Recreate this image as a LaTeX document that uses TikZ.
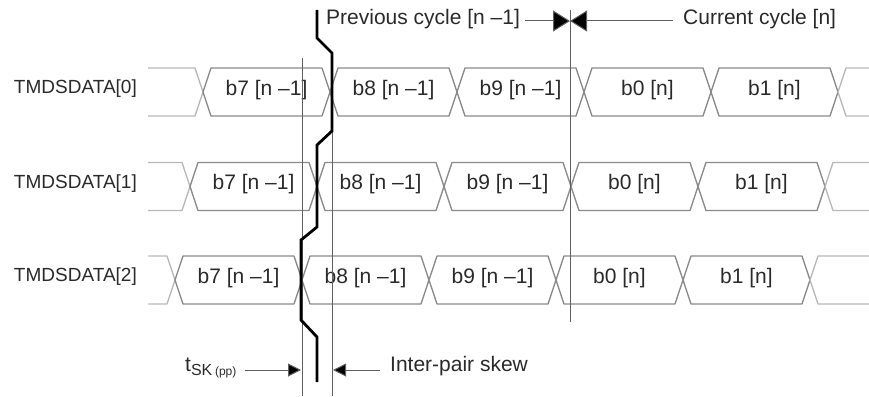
\documentclass[tikz,border=0pt]{standalone}
\usepackage{fontspec}
\setmainfont{Liberation Sans}
\usetikzlibrary{arrows.meta}
\definecolor{wire}{HTML}{8A8A8A}
\definecolor{idle}{HTML}{B8B8B8}
\definecolor{ink}{HTML}{2A2A2A}
\definecolor{rule}{HTML}{606060}

\begin{document}
\begin{tikzpicture}[x=1pt,y=-1pt,
    lab/.style={text=ink,font=\fontsize{21}{24}\selectfont,inner sep=0pt},
    bus/.style={draw=wire,line width=1.3pt,line join=round},
    idlebus/.style={draw=idle,line width=1.3pt,line join=round},
    guide/.style={draw=rule,line width=0.9pt},
    skewline/.style={draw=black,line width=2.8pt},
    cyclearrow/.style={draw=rule,line width=1pt,-{Triangle[length=17pt,width=21pt,fill=black]}},
    skewarrow/.style={draw=rule,line width=1pt,-{Triangle[length=13pt,width=13pt,fill=black]}}]
  \useasboundingbox (0,0) rectangle (869,396);
  \foreach \r/\yc/\o in {0/92/203, 1/186.5/190, 2/280/175} {
    \node[lab,font=\fontsize{19}{22}\selectfont,anchor=east] (lane\r) at (137,\yc-3) {TMDSDATA[\r]};
    \draw[idlebus] (148,\yc-24) -- (\o-8,\yc-24) -- (\o,\yc) -- (\o-8,\yc+24) -- (148,\yc+24);
    \foreach \t [count=\k from 0] in {{b7 [n –1]},{b8 [n –1]},{b9 [n –1]},{b0 [n]},{b1 [n]}} {
      \pgfmathsetmacro\lx{\o+127*\k}
      \pgfmathsetmacro\rx{\lx+127}
      \draw[bus] (\lx,\yc) -- (\lx+8,\yc-24) -- (\rx-8,\yc-24) -- (\rx,\yc)
        -- (\rx-8,\yc+24) -- (\lx+8,\yc+24) -- cycle;
      \node[lab] (d\r\k) at ({(\lx+\rx)/2},\yc-2) {\t};
    }
    \draw[idlebus] (869,\yc-24) -- (\o+643,\yc-24) -- (\o+635,\yc) -- (\o+643,\yc+24) -- (869,\yc+24);
  }
  \draw[guide] (302,58) -- (302,396);
  \draw[guide] (332,55) -- (332,396);
  \draw[guide] (570,10) -- (570,322);
  \draw[skewline] (317,10) -- (317,38) -- (332,53) -- (332,131) -- (317,145) -- (317,227)
    -- (301,240) -- (301,320) -- (317,337) -- (317,382);
  \coordinate (cyc) at (570,21);
  \node[lab,anchor=west] (prev) at (326,19) {Previous cycle [n –1]};
  \node[lab,anchor=west] (cur) at (683,19) {Current cycle [n]};
  \draw[cyclearrow] ([xshift=5pt]prev.east |- cyc) -- (cyc);
  \draw[cyclearrow] ([xshift=-10pt]cur.west |- cyc) -- (cyc);
  \coordinate (skewa) at (301,370);
  \coordinate (skewb) at (333,370);
  \node[lab,anchor=west] (tsk) at (185,368) {t\raisebox{-4pt}{\fontsize{16}{16}\selectfont SK\,\fontsize{12}{12}\selectfont (pp)}};
  \node[lab,anchor=west] (ips) at (390,366) {Inter-pair skew};
  \draw[skewarrow] ([xshift=8pt]tsk.east |- skewa) -- (skewa);
  \draw[skewarrow] ([xshift=-10pt]ips.west |- skewb) -- (skewb);
\end{tikzpicture}
\end{document}
